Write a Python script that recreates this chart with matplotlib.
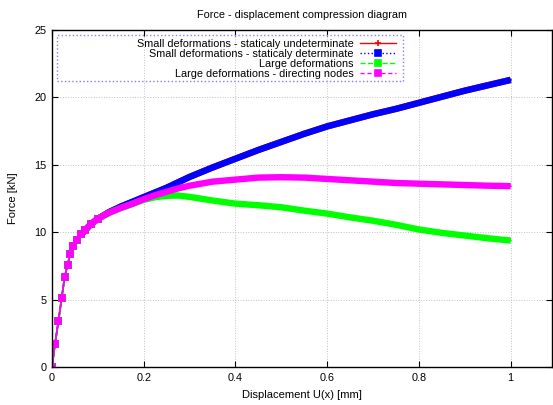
import matplotlib
matplotlib.use("Agg")
import matplotlib.pyplot as plt
import numpy as np
from matplotlib.lines import Line2D
from matplotlib.patches import Rectangle

plt.rcParams['font.family'] = ['Liberation Sans', 'DejaVu Sans']

# displacement [mm] (shared by all series)
disp = [0, 0.0065, 0.014, 0.021, 0.0275, 0.034, 0.04, 0.046, 0.055, 0.064, 0.072,
        0.085, 0.1, 0.125, 0.15, 0.175, 0.2, 0.225, 0.25, 0.275, 0.3, 0.35, 0.4,
        0.45, 0.5, 0.55, 0.6, 0.65, 0.7, 0.75, 0.8, 0.85, 0.9, 0.95, 1.0]

# force [kN]
small_det = [0, 1.7, 3.4, 5.1, 6.65, 7.6, 8.4, 9.0, 9.45, 9.85, 10.15,
             10.6, 11.0, 11.5, 11.9, 12.25, 12.6, 12.95, 13.3, 13.7, 14.1, 14.8, 15.45,
             16.1, 16.7, 17.3, 17.85, 18.3, 18.75, 19.15, 19.6, 20.05, 20.5, 20.9, 21.3]
small_undet = list(small_det)
large = [0, 1.7, 3.4, 5.1, 6.65, 7.6, 8.4, 9.0, 9.45, 9.85, 10.15,
         10.6, 11.0, 11.45, 11.8, 12.1, 12.4, 12.6, 12.7, 12.72, 12.62, 12.35, 12.12,
         12.0, 11.85, 11.6, 11.38, 11.1, 10.85, 10.55, 10.2, 9.95, 9.75, 9.55, 9.38]
large_dir = [0, 1.7, 3.4, 5.1, 6.65, 7.6, 8.4, 9.0, 9.45, 9.85, 10.15,
             10.6, 11.0, 11.45, 11.8, 12.1, 12.45, 12.75, 13.0, 13.25, 13.45, 13.75, 13.9,
             14.05, 14.08, 14.05, 13.95, 13.85, 13.75, 13.65, 13.6, 13.55, 13.5, 13.45, 13.42]

labels = ["Small deformations - staticaly undeterminate",
          "Small deformations - staticaly determinate",
          "Large deformations",
          "Large deformations - directing nodes"]
colors = ["#ff0000", "#0000ff", "#00ff00", "#ff00ff"]
styles = ["-", ":", "--", (0, (3, 2))]
markers = ["+", "s", "s", "s"]

fig = plt.figure(figsize=(5.53, 4.05), dpi=100)
ax = fig.add_axes([52 / 553, 1 - 367 / 405, 500 / 553, 337 / 405])

x = np.array(disp)
dense = x >= 0.06
sparse = np.where(x <= 0.1)[0].tolist()
for y, c, m in zip([small_undet, small_det, large, large_dir], colors, markers):
    y = np.array(y)
    ax.plot(x[dense], y[dense], color=c, lw=4.6, solid_capstyle="butt",
            solid_joinstyle="round")
    ax.plot(x, y, color=c, lw=1.2, marker=m, ms=4.5, mew=1.2, markevery=sparse)

ax.set_xlim(0, 1.09)
ax.set_ylim(0, 25)
ax.set_xticks([0, 0.2, 0.4, 0.6, 0.8, 1])
ax.set_xticklabels(["0", "0.2", "0.4", "0.6", "0.8", "1"])
ax.set_yticks([0, 5, 10, 15, 20, 25])
ax.tick_params(direction="in", length=4, width=0.8, top=True, right=True,
               labelsize=7.8, pad=4)
ax.grid(True, linestyle=":", color="#c0c0c0", linewidth=0.7)
for s in ax.spines.values():
    s.set_linewidth(1.0)

ax.set_xlabel("Displacement U(x) [mm]", fontsize=8, labelpad=5)
ax.set_ylabel("Force [kN]", fontsize=8, labelpad=12)
ax.set_title("Force - displacement compression diagram", fontsize=7.8, pad=9)

handles = [Line2D([], [], color=c, ls=s, lw=1.0, marker=m, ms=4.5, mew=1.2)
           for c, s, m in zip(colors, styles, markers)]
ax.legend(handles, labels, loc="upper right", bbox_to_anchor=(0.70, 0.992),
          markerfirst=False, frameon=False, fontsize=7.8, labelspacing=0.0,
          handlelength=3.3, handletextpad=0.6, borderpad=0.1)
ax.add_patch(Rectangle((0.01, 0.85), 0.692, 0.135, transform=ax.transAxes,
                       fill=False, edgecolor="#8080ff", linestyle=":", lw=1.0,
                       zorder=5))

fig.savefig("out.png", dpi=100)
